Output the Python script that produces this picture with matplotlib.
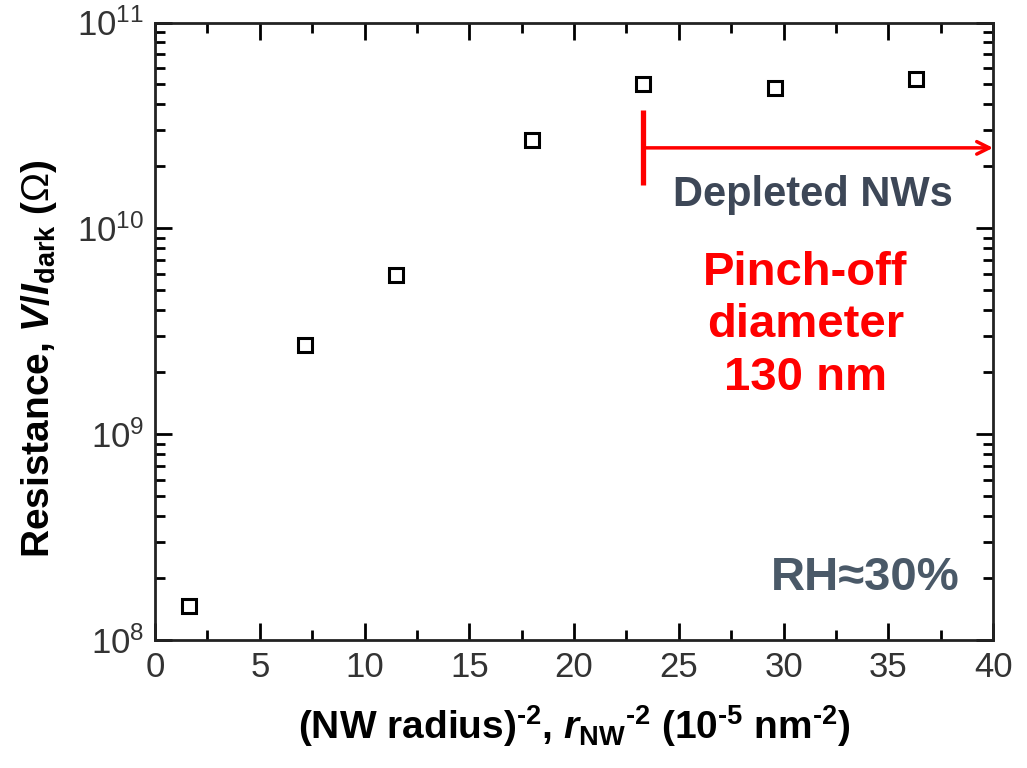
import numpy as np
import matplotlib
matplotlib.use("Agg")
import matplotlib.pyplot as plt
from matplotlib.ticker import MultipleLocator, LogLocator

plt.rcParams['font.family'] = ['Liberation Sans', 'DejaVu Sans']
plt.rcParams['mathtext.fontset'] = 'custom'
plt.rcParams['mathtext.rm'] = 'Liberation Sans:bold'
plt.rcParams['mathtext.it'] = 'Liberation Sans:italic:bold'
plt.rcParams['mathtext.bf'] = 'Liberation Sans:bold'
plt.rcParams['mathtext.sf'] = 'Liberation Sans'

# data
r_inv2 = [1.6, 7.15, 11.5, 18.0, 23.3, 29.6, 36.3]
resistance = [1.47e8, 2.72e9, 5.9e9, 2.68e10, 5.0e10, 4.8e10, 5.3e10]

pinch_x = 23.3
arrow_y = 2.46e10

fig = plt.figure(figsize=(10.27, 7.68), dpi=100)
ax = fig.add_axes([0.151, 0.1667, 0.816, 0.804])

ax.plot(r_inv2, resistance, 's', ms=10, mfc='none', mec='black', mew=2.2)

ax.set_yscale('log')
ax.set_xlim(0, 40)
ax.set_ylim(1e8, 1e11)
ax.xaxis.set_major_locator(MultipleLocator(5))
ax.xaxis.set_minor_locator(MultipleLocator(2.5))
ax.yaxis.set_major_locator(LogLocator(base=10, numticks=10))
ax.yaxis.set_minor_locator(LogLocator(base=10, subs=np.arange(2, 10), numticks=10))

ax.tick_params(which='both', direction='in', top=True, right=True, width=2)
ax.tick_params(which='major', length=12, labelsize=25, labelcolor='#333333', pad=8)
ax.tick_params(which='minor', length=7)
for s in ax.spines.values():
    s.set_linewidth(2)
    s.set_color('#222222')

hy = '\u2010'
ax.set_xlabel('(NW radius)$^{\\mathdefault{' + hy + '2}}$, $r_{\\mathdefault{NW}}$$^{\\mathdefault{' + hy + '2}}$ '
              '(10$^{\\mathdefault{' + hy + '5}}$ nm$^{\\mathdefault{' + hy + '2}}$)',
              fontsize=28, fontweight='bold', labelpad=14)
ax.set_ylabel(r'Resistance, $V/I_{\mathdefault{dark}}$ ($\mathsf{\Omega}$)',
              fontsize=28, fontweight='bold')
ax.yaxis.set_label_coords(-0.115, 0.455)

# red marker for depleted region
ax.plot([pinch_x, pinch_x], [1.62e10, 3.77e10], color='#ff0000', lw=3.8, solid_capstyle='butt')
ax.annotate('', xy=(40, arrow_y), xytext=(pinch_x, arrow_y),
            arrowprops=dict(arrowstyle='->,head_length=0.9,head_width=0.45', color='#ff0000', lw=2.5,
                            shrinkA=0, shrinkB=0))

ax.text(0.785, 0.72, 'Depleted NWs', transform=ax.transAxes, ha='center', va='center',
        fontsize=30, fontweight='bold', color='#3d4757')
ax.text(0.776, 0.51, 'Pinch-off\ndiameter\n130 nm', transform=ax.transAxes, ha='center', va='center',
        fontsize=34, fontweight='bold', color='#ff0000', linespacing=1.25)
ax.text(0.847, 0.10, 'RH≈30%', transform=ax.transAxes, ha='center', va='center',
        fontsize=34, fontweight='bold', color='#4a5968')

fig.savefig('out.png', dpi=100)
